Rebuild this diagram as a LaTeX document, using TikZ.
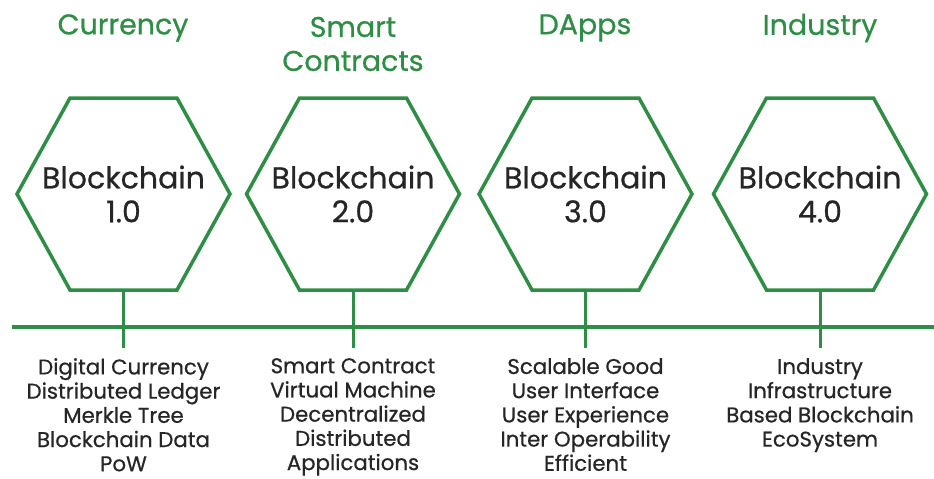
\documentclass[tikz,border=0pt]{standalone}
\usepackage{fontspec}
\setmainfont{Poppins}[FakeBold=0.6]
\definecolor{gfg}{HTML}{2F8D46}
\definecolor{ink}{HTML}{262626}
\tikzset{
  hexline/.style={draw=gfg, line width=3.5pt, line join=miter},
  hexlabel/.style={text=ink, align=center, inner sep=0pt, font=\fontsize{30}{34}\selectfont},
  era/.style={text=gfg, align=center, font=\fontsize{28.5}{34}\selectfont, inner sep=0pt},
  feat/.style={text=ink, align=center, font=\fontsize{21.3}{24.2}\selectfont, anchor=north, inner sep=0pt},
  link/.style={draw=gfg, line width=3.5pt},
}
\begin{document}
\begin{tikzpicture}[x=1pt,y=-1pt]
\useasboundingbox (0,0) rectangle (934,479);
\fill[white] (0,0) rectangle (934,479);
\coordinate (L) at (12,327);
\coordinate (R) at (934,327);
\draw[link] (L) -- (R);

\node[era] (e1) at (123,28) {Currency};
\node[era] (e2) at (353,44) {Smart\\Contracts};
\node[era] (e3) at (585,28) {DApps};
\node[era] (e4) at (820,28) {Industry};

\foreach \i/\x in {1/123.5,2/353,3/585.5,4/820} {
  \coordinate (c\i) at (\x,194);
  \draw[hexline] ([shift={(-106.5,0)}]c\i) -- ([shift={(-53.5,-96)}]c\i) -- ([shift={(53.5,-96)}]c\i)
     -- ([shift={(106.5,0)}]c\i) -- ([shift={(53.5,96)}]c\i) -- ([shift={(-53.5,96)}]c\i) -- cycle;
  \coordinate (hb\i) at ([shift={(0,96)}]c\i);
}

\node[hexlabel] (b1) at (123.5,194) {Blockchain\\1.0};
\node[hexlabel] (b2) at (353,194) {Blockchain\\2.0};
\node[hexlabel] (b3) at (585.5,194) {Blockchain\\3.0};
\node[hexlabel] (b4) at (820,194) {Blockchain\\4.0};

\node[feat] (f1) at (123.5,358) {Digital Currency\\Distributed Ledger\\Merkle Tree\\Blockchain Data\\PoW};
\node[feat] (f2) at (353,358) {Smart Contract\\Virtual Machine\\Decentralized\\Distributed\\Applications};
\node[feat] (f3) at (585.5,358) {Scalable Good\\User Interface\\User Experience\\Inter Operability\\Efficient};
\node[feat] (f4) at (820,358) {Industry\\Infrastructure\\Based Blockchain\\EcoSystem};

\foreach \i in {1,2,3,4} \draw[link, line width=3pt] (hb\i) -- ([yshift=10pt]f\i.north);
\end{tikzpicture}
\end{document}
